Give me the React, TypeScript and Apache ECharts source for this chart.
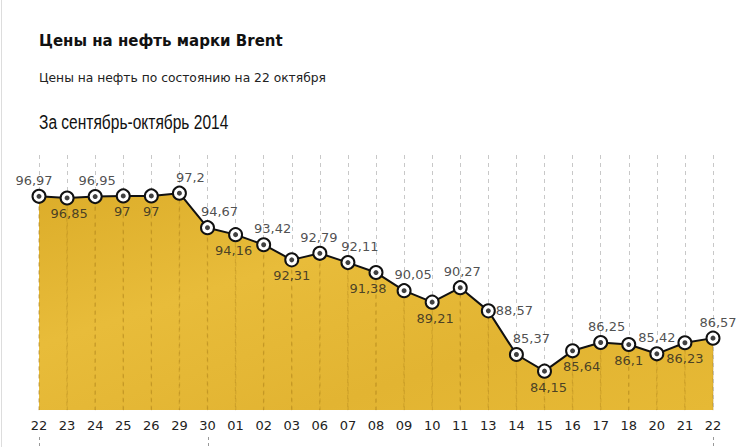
import React, { useEffect, useRef } from "react";
import * as echarts from "echarts";

const categories = ["22","23","24","25","26","29","30","01","02","03","06","07","08","09","10","11","13","14","15","16","17","18","20","21","22"];
const prices = [96.97,96.85,96.95,97,97,97.2,94.67,94.16,93.42,92.31,92.79,92.11,91.38,90.05,89.21,90.27,88.57,85.37,84.15,85.64,86.25,86.1,85.42,86.23,86.57];
const labelSides = ["top","bottom","top","bottom","bottom","top","top","bottom","top","bottom","top","top","bottom","top","bottom","top","right","top","bottom","bottom","top","bottom","top","bottom","top"];
const monthMarks = [0, 6, 24];

const title = "Цены на нефть марки Brent";
const subtitle = "Цены на нефть по состоянию на 22 октября";
const period = "За сентябрь-октябрь 2014";

// horizontal nudge of each value label (layout only)
const labelNudge = [-5, 2, 2, -1, 0, 11, 12, -2, 9, 0, -1, 12, -8, 9, 3, 2, 26, 15, 4, 9, 6, 0, 0, 0, 5];

export default function App() {
  const ref = useRef<HTMLDivElement>(null);
  useEffect(() => {
    if (!ref.current) return;
    const chart = echarts.init(ref.current, null, { renderer: "svg" });
    const fmt = (v: number) => String(v).replace(".", ",");
    const baseGraphic: any[] = [
      { type: "line", shape: { x1: 1.5, y1: 0, x2: 1.5, y2: 447 }, style: { stroke: "#ddd", lineWidth: 1 } },
      { type: "text", left: 39, top: 33, style: { text: title, font: "bold 15px 'DejaVu Sans'", fill: "#111" } },
      { type: "text", left: 39, top: 72, style: { text: subtitle, font: "12.3px 'DejaVu Sans'", fill: "#222" } },
      {
        type: "text", x: 39, y: 111, scaleX: 0.74, scaleY: 1,
        style: { text: period, x: 0, y: 0, verticalAlign: "top", font: "21px 'Liberation Sans'", fill: "#111" },
      },
    ];
    chart.setOption({
      animation: false,
      backgroundColor: "#fff",
      graphic: baseGraphic,
      grid: { left: 39, right: 36, top: 155, bottom: 37 },
      xAxis: {
        type: "category",
        data: categories,
        boundaryGap: false,
        axisLine: { show: false },
        axisTick: { show: false },
        axisLabel: { color: "#222", fontSize: 13, fontFamily: "DejaVu Sans", margin: 9, interval: 0 },
        splitLine: { show: true, interval: 0, lineStyle: { color: "#c8c8c8", type: [4, 4], width: 1 } },
      },
      yAxis: {
        type: "value",
        min: 81.3,
        max: 100,
        show: false,
        splitLine: { show: false },
      },
      series: [
        {
          type: "line",
          data: prices,
          symbol: "none",
          lineStyle: { width: 0, opacity: 0 },
          areaStyle: {
            opacity: 1,
            color: {
              type: "linear", x: 0, y: 0, x2: 1, y2: 1,
              colorStops: [
                { offset: 0, color: "#dcad2a" },
                { offset: 0.35, color: "#e8bc3a" },
                { offset: 0.7, color: "#e2b432" },
                { offset: 1, color: "#e6b935" },
              ],
            },
          },
          silent: true,
          z: 1,
        },
        {
          type: "bar",
          data: prices,
          barWidth: 1,
          itemStyle: {
            color: "rgba(0,0,0,0)",
            borderColor: "rgba(160,118,20,0.55)",
            borderWidth: 0.6,
            borderType: [4, 4],
          },
          silent: true,
          z: 2,
        },
        {
          type: "line",
          data: prices,
          symbol: "circle",
          symbolSize: 13,
          lineStyle: { color: "#111", width: 2 },
          itemStyle: { color: "#fff", borderColor: "#111", borderWidth: 2 },
          label: { show: false },
          z: 3,
        },
        {
          type: "scatter",
          data: prices.map((v, i) => {
            const side = labelSides[i];
            const label =
              side === "right"
                ? { position: "top", distance: 7, offset: [labelNudge[i], 16] }
                : { position: side, distance: 7, offset: [labelNudge[i], 0] };
            return { value: [i, v], label };
          }),
          symbol: "circle",
          symbolSize: 5,
          itemStyle: { color: "#111" },
          label: {
            show: true,
            formatter: (p: any) => fmt(p.value[1]),
            color: "#222",
            fontSize: 13,
            fontFamily: "DejaVu Sans",
          },
          silent: true,
          z: 4,
        },
      ],
    });
    const marks = monthMarks.map((i) => {
      const x = chart.convertToPixel({ xAxisIndex: 0 }, i) as number;
      return {
        type: "line",
        shape: { x1: Math.round(x) + 0.5, y1: 437, x2: Math.round(x) + 0.5, y2: 447 },
        style: { stroke: "#999", lineWidth: 1, lineDash: [3, 3] },
      };
    });
    chart.setOption({ graphic: [...baseGraphic, ...marks] }, { replaceMerge: ["graphic"] });
    return () => chart.dispose();
  }, []);
  return <div ref={ref} style={{ position: "fixed", left: 0, top: 0, width: 749, height: 447 }} />;
}
